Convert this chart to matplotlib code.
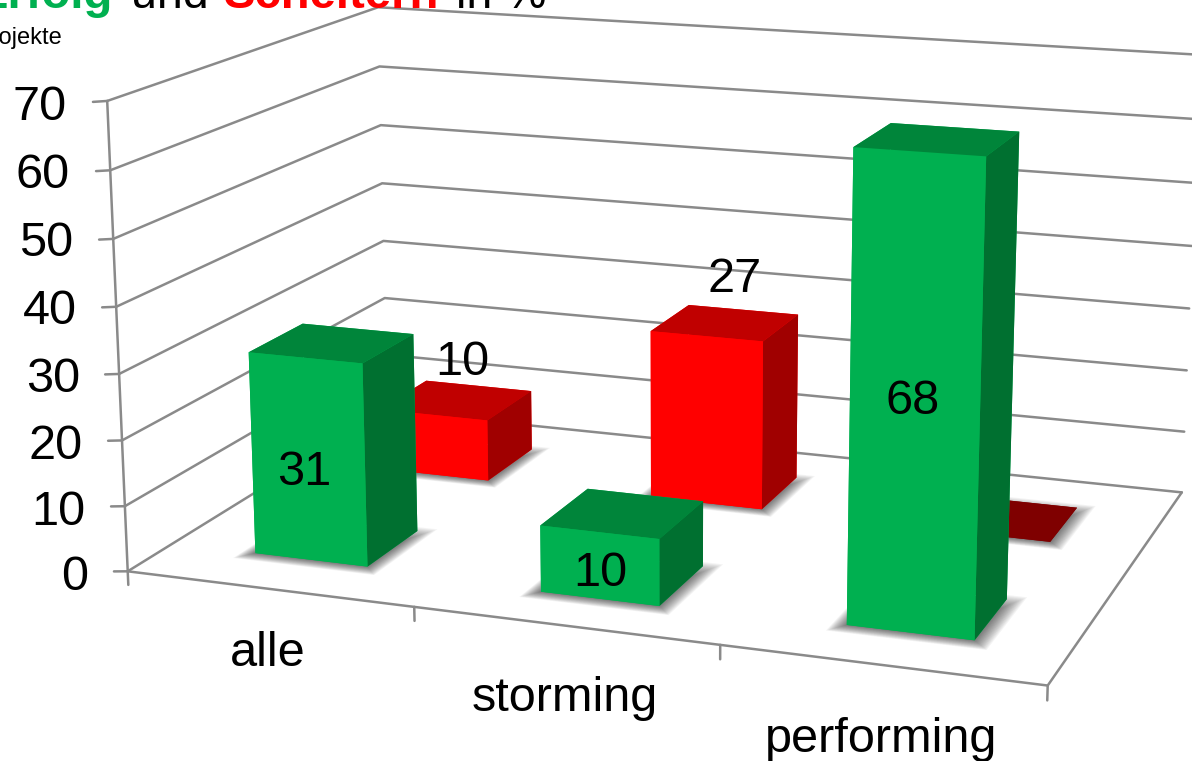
import matplotlib
matplotlib.use('Agg')
import matplotlib.pyplot as plt
from mpl_toolkits.mplot3d.art3d import Poly3DCollection

# values
categories = ['alle', 'storming', 'performing']
erfolg = [31, 10, 68]
scheitern = [10, 27, 0]
y_ticks = [0, 10, 20, 30, 40, 50, 60, 70]

# bar footprints on the floor, x in category units, y as a fraction of the depth
green_left = [0.30, 1.315, 2.305]
green_right = [0.70, 1.71, 2.705]
green_front = [0.153, 0.134, 0.15]
green_back = [0.35, 0.34, 0.35]
red_left = [0.29, 1.30, 2.31]
red_right = [0.70, 1.70, 2.70]
red_front = [0.654, 0.66, 0.654]
red_back = [0.857, 0.855, 0.852]

GRID = '#8A8A8A'
W, H = 1192, 761
plt.rcParams['font.family'] = 'Liberation Sans'

fig = plt.figure(figsize=(W / 100, H / 100), dpi=100)
ax = fig.add_axes([0, 0, 1, 1], projection='3d', computed_zorder=False)
ax.set_xlim(0, 3, view_margin=0)
ax.set_ylim(0, 1, view_margin=0)
ax.set_zlim(0, 70, view_margin=0)
ax.view_init(elev=14.1965, azim=-70.1805)
ax.set_proj_type('persp', focal_length=0.5158)
ax.set_box_aspect((1, 0.6574, 0.5079))
cx, cy, w = 658.99, 323.36, 1549.03
h = w * 0.75
ax.set_position([(cx - w / 2) / W, 1 - (cy + h / 2) / H, w / W, h / H])
ax.set_axis_off()


def line(xs, ys, zs):
    ax.plot(xs, ys, zs, color=GRID, lw=1.8, zorder=1, solid_capstyle='round')


# walls and floor outline
for v in y_ticks:
    line([0, 0, 3], [0, 1, 1], [v, v, v])
    line([-0.05, 0], [0, 0], [v - 0.28, v])
line([0, 0], [0, 0], [0, 70])
line([0, 3, 3], [0, 0, 1], [0, 0, 0])
for c in range(4):
    line([c, c], [0, 0], [0, -2.1])


def shadow(x0, x1, y0, y1, z):
    # soft shadow made of stacked translucent footprints
    n = 16
    for k in range(n):
        g = k / (n - 1)
        gx0, gx1 = x0 - 0.045 * g, x1 + 0.055 * g
        gy0, gy1 = y0 - 0.035 * g, y1 - 0.05 + 0.07 * g
        poly = Poly3DCollection([[(gx0, gy0, 0), (gx1, gy0, 0), (gx1, gy1, 0), (gx0, gy1, 0)]],
                                facecolor='black', edgecolor='none', alpha=0.042)
        poly.set_zorder(z)
        ax.add_collection3d(poly)


def bar(x0, x1, y0, y1, value, front, top, side, z):
    # face order of bar3d: bottom, top, front, back, left, right
    faces = [front, top, front, front, front, side]
    ax.bar3d(x0, y0, 0, x1 - x0, y1 - y0, value, color=faces, shade=False,
             edgecolor='none', zorder=z)


# back row first, the front row covers it
for i in range(3):
    shadow(red_left[i], red_right[i], red_front[i], red_back[i], 2)
for i in range(3):
    if scheitern[i] > 0:
        bar(red_left[i], red_right[i], red_front[i], red_back[i], scheitern[i],
            '#FF0000', '#C00000', '#A00000', 3)
    else:
        bar(red_left[i], red_right[i], red_front[i], red_back[i], scheitern[i],
            '#7F0000', '#7F0000', '#7F0000', 3)
for i in range(3):
    shadow(green_left[i], green_right[i], green_front[i], green_back[i], 4)
for i in range(3):
    bar(green_left[i], green_right[i], green_front[i], green_back[i], erfolg[i],
        '#00B050', '#00853A', '#007030', 5)


def label(x, y, s, **kw):
    fig.text(x / W, 1 - y / H, s, va='baseline', color=kw.pop('color', 'black'),
             fontsize=kw.pop('fontsize', 35), **kw)


# title and subtitle run past the edge of the figure
label(113, 8, 'Erfolg', ha='right', color='#00B050', fontweight='bold', fontsize=34)
label(131, 8, 'und', ha='left', fontsize=33.5)
label(224, 8, 'Scheitern', ha='left', color='#FF0000', fontweight='bold', fontsize=34)
label(456, 8, 'in %', ha='left', fontsize=33.5)
label(62, 44, 'Projekte', ha='right', fontsize=17)

# the tick labels follow the slant of the axis
tick_x = [88, 85, 83, 80, 77, 73, 70, 67]
tick_y = [590, 525, 459, 392, 324, 256, 188, 120]
for v, x, y in zip(y_ticks, tick_x, tick_y):
    label(x, y, str(v), ha='right')

cat_x = [268, 565, 881]
cat_y = [666, 711, 752]
for c, x, y in zip(categories, cat_x, cat_y):
    label(x, y, c, ha='center')

# value labels, the zero bar has none
green_lab = [(304, 485), (600, 586), (913, 414)]
red_lab = [(462, 375), (735, 292)]
for v, (x, y) in zip(erfolg, green_lab):
    label(x, y, str(v), ha='center')
for v, (x, y) in zip(scheitern, red_lab):
    label(x, y, str(v), ha='center')

fig.savefig('out.png', dpi=100)
